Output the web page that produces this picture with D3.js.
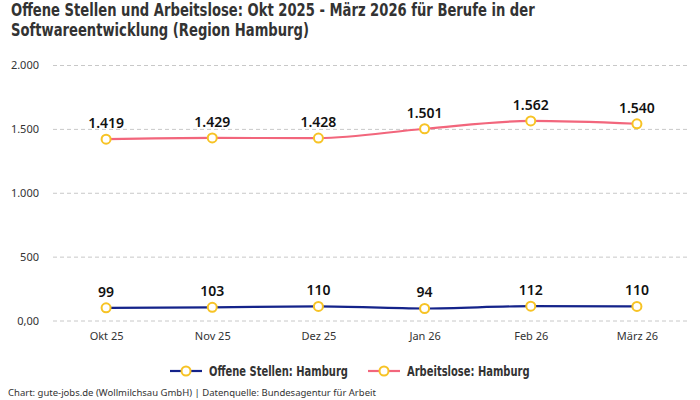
<!DOCTYPE html>
<html>
<head>
<meta charset="utf-8">
<script src="https://cdn.jsdelivr.net/npm/d3@7"></script>
<style>
	body { margin: 0; background: #fff; }
	svg { display: block; }
	.title { font-family: "DejaVu Sans Condensed", "DejaVu Sans", sans-serif; font-weight: bold; font-size: 17px; fill: #333; }
	.tick text { font-family: "Noto Sans", sans-serif; font-size: 11px; fill: #333; }
	.label { font-family: "Noto Sans", sans-serif; font-size: 14px; font-weight: 600; fill: #111; }
	.legend { font-family: "DejaVu Sans Condensed", "DejaVu Sans", sans-serif; font-weight: bold; font-size: 13.5px; fill: #333; }
	.footer { font-family: "Noto Sans", sans-serif; font-size: 9.5px; fill: #333; }
</style>
</head>
<body>
<svg width="700" height="400"></svg>
<script>
// Values.
const months = ["Okt 25", "Nov 25", "Dez 25", "Jan 26", "Feb 26", "März 26"];
const offeneStellen = [99, 103, 110, 94, 112, 110];
const arbeitslose = [1419, 1429, 1428, 1501, 1562, 1540];
const yTicks = [0, 500, 1000, 1500, 2000];

const titleLines = [
	"Offene Stellen und Arbeitslose: Okt 2025 - März 2026 für Berufe in der",
	"Softwareentwicklung (Region Hamburg)"
];
const footerText = "Chart: gute-jobs.de (Wollmilchsau GmbH) | Datenquelle: Bundesagentur für Arbeit";

const series = [
	{name: "Offene Stellen: Hamburg", values: offeneStellen, color: "#14238a"},
	{name: "Arbeitslose: Hamburg", values: arbeitslose, color: "#f2667c"}
];

const svg = d3.select("svg");
const plot = {left: 53, right: 690, top: 65, bottom: 320.5};

// title, squeezed horizontally to mimic the condensed face
svg.append("g")
	.attr("transform", "translate(11,0) scale(0.86,1)")
	.selectAll("text")
	.data(titleLines)
	.join("text")
	.attr("class", "title")
	.attr("x", 0)
	.attr("y", (d, i) => 16 + i * 20)
	.text(d => d);

const x = d3.scalePoint().domain(months).range([plot.left, plot.right]).padding(0.5);
const y = d3.scaleLinear().domain([0, 2000]).range([plot.bottom, plot.top]);

const fmt = d3.formatLocale({decimal: ",", thousands: ".", grouping: [3], currency: ["", "€"]});
const fmtInt = fmt.format(",d");

// y axis with dashed grid
const yAxis = svg.append("g")
	.attr("transform", `translate(${plot.left},0)`)
	.call(d3.axisLeft(y).tickValues(yTicks)
		.tickSize(-(plot.right - plot.left))
		.tickPadding(14)
		.tickFormat(d => d === 0 ? "0,00" : fmtInt(d)));
yAxis.select(".domain").remove();
yAxis.selectAll(".tick line")
	.attr("stroke", "#c8c8c8")
	.attr("stroke-dasharray", "4,3");

// x axis
const xAxis = svg.append("g")
	.attr("transform", `translate(0,${plot.bottom})`)
	.call(d3.axisBottom(x).tickSize(0).tickPadding(12));
xAxis.select(".domain").remove();

const line = d3.line()
	.x((d, i) => x(months[i]))
	.y(d => y(d))
	.curve(d3.curveMonotoneX);

series.forEach(s => {
	const g = svg.append("g");
	g.append("path")
		.datum(s.values)
		.attr("fill", "none")
		.attr("stroke", s.color)
		.attr("stroke-width", 2.2)
		.attr("d", line);
	g.selectAll("circle")
		.data(s.values)
		.join("circle")
		.attr("cx", (d, i) => x(months[i]))
		.attr("cy", d => y(d))
		.attr("r", 4.5)
		.attr("fill", "#fff")
		.attr("stroke", "#f7c325")
		.attr("stroke-width", 2);
	g.selectAll("text")
		.data(s.values)
		.join("text")
		.attr("class", "label")
		.attr("text-anchor", "middle")
		.attr("x", (d, i) => x(months[i]))
		.attr("y", d => y(d) - 11)
		.text(d => fmtInt(d));
});

// legend
const legendX = [170, 368];
const legend = svg.append("g").selectAll("g")
	.data(series)
	.join("g")
	.attr("transform", (d, i) => `translate(${legendX[i]},371)`);
legend.append("line")
	.attr("x1", 0).attr("x2", 32)
	.attr("stroke", d => d.color)
	.attr("stroke-width", 2.2);
legend.append("circle")
	.attr("cx", 16).attr("r", 4.5)
	.attr("fill", "#fff")
	.attr("stroke", "#f7c325")
	.attr("stroke-width", 2);
legend.append("text")
	.attr("class", "legend")
	.attr("transform", "translate(39,0) scale(0.82,1)")
	.attr("dy", "0.35em")
	.text(d => d.name);

// footer
svg.append("text")
	.attr("class", "footer")
	.attr("x", 8)
	.attr("y", 396)
	.text(footerText);
</script>
</body>
</html>
